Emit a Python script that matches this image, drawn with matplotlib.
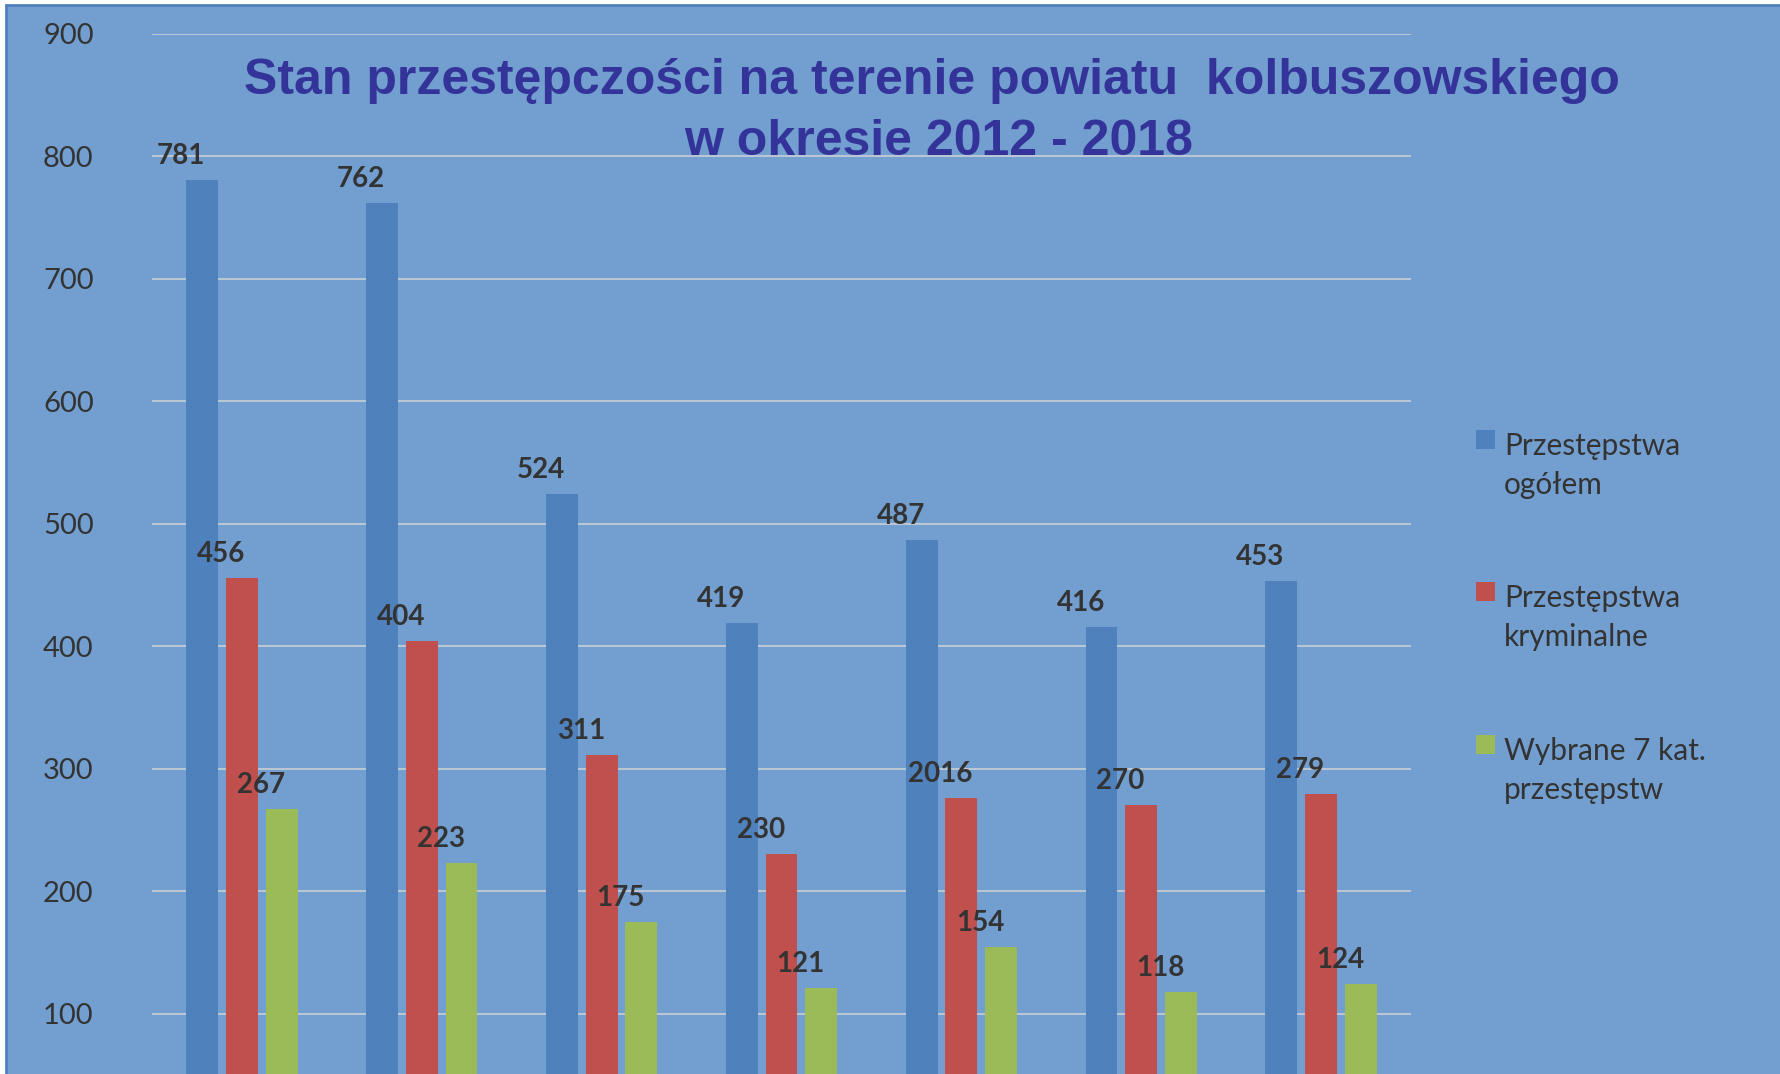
import matplotlib.pyplot as plt
from matplotlib.patches import Rectangle
import numpy as np

years = ["2012", "2013", "2014", "2015", "2016", "2017", "2018"]
ogolem = [781, 762, 524, 419, 487, 416, 453]
kryminalne = [456, 404, 311, 230, 276, 270, 279]
wybrane = [267, 223, 175, 121, 154, 118, 124]

ogolem_labels = ["781", "762", "524", "419", "487", "416", "453"]
kryminalne_labels = ["456", "404", "311", "230", "2016", "270", "279"]
wybrane_labels = ["267", "223", "175", "121", "154", "118", "124"]

series_names = ["Przestępstwa\nogółem", "Przestępstwa\nkryminalne", "Wybrane 7 kat.\nprzestępstw"]
colors = ["#4F81BD", "#C0504D", "#9BBB59"]
bg = "#729FCF"
text_col = "#333333"
W, H = 1781, 1074

fig = plt.figure(figsize=(W / 100, H / 100), dpi=100)
fig.patch.set_facecolor("white")

# chart area frame (continues past the right and bottom edges)
fig.patches.append(Rectangle((6 / W, -0.1), 1.2, 1 - 5 / H + 0.1, transform=fig.transFigure,
                             facecolor=bg, edgecolor="#4F81BD", linewidth=2, zorder=-5))

ax = fig.add_axes([152 / W, -62 / H, (1411 - 152) / W, 1102 / H])
ax.set_facecolor("none")
for s in ax.spines.values():
    s.set_visible(False)

x = np.arange(len(years))
step = 0.221
width = 0.177
data = [ogolem, kryminalne, wybrane]
labels = [ogolem_labels, kryminalne_labels, wybrane_labels]
for i, (vals, labs, c) in enumerate(zip(data, labels, colors)):
    pos = x + (i - 1) * step
    ax.bar(pos, vals, width=width, color=c, zorder=2)
    for px, v, t in zip(pos, vals, labs):
        ax.annotate(t, (px, v), xytext=(-15, 11.5), textcoords="offset points",
                    ha="center", va="baseline", fontsize=20, fontweight="bold",
                    family="Lato", color=text_col, zorder=3)

ax.set_xlim(-0.5, len(years) - 0.5)
ax.set_ylim(0, 900)
ax.set_yticks(range(100, 1000, 100))
ax.set_xticks(x)
ax.set_xticklabels(years)
ax.yaxis.grid(True, color="#C9CED6", linewidth=1.2, zorder=1)
ax.set_axisbelow(True)
ax.tick_params(axis="both", length=0, pad=42, labelsize=21, labelcolor=text_col)
ax.tick_params(axis="x", labelbottom=False)
for t in ax.get_yticklabels():
    t.set_family("Lato")

fig.text(932 / W, 1 - 94 / H, "Stan przestępczości na terenie powiatu  kolbuszowskiego",
         ha="center", va="baseline", fontsize=36, fontweight="bold",
         family="Liberation Sans", color="#333399")
fig.text(939 / W, 1 - 155 / H, "w okresie 2012 - 2018",
         ha="center", va="baseline", fontsize=36, fontweight="bold",
         family="Liberation Sans", color="#333399")

# legend
sq_tops = [430, 582, 735]
for name, c, top in zip(series_names, colors, sq_tops):
    fig.patches.append(Rectangle((1476 / W, 1 - (top + 19) / H), 19 / W, 19 / H,
                                 transform=fig.transFigure, facecolor=c, edgecolor="none"))
    for k, line in enumerate(name.split("\n")):
        fig.text(1504 / W, 1 - (top + 25 + 39 * k) / H, line, ha="left", va="baseline",
                 fontsize=21.5, family="Lato", color=text_col)

fig.savefig("out.png", dpi=100)
